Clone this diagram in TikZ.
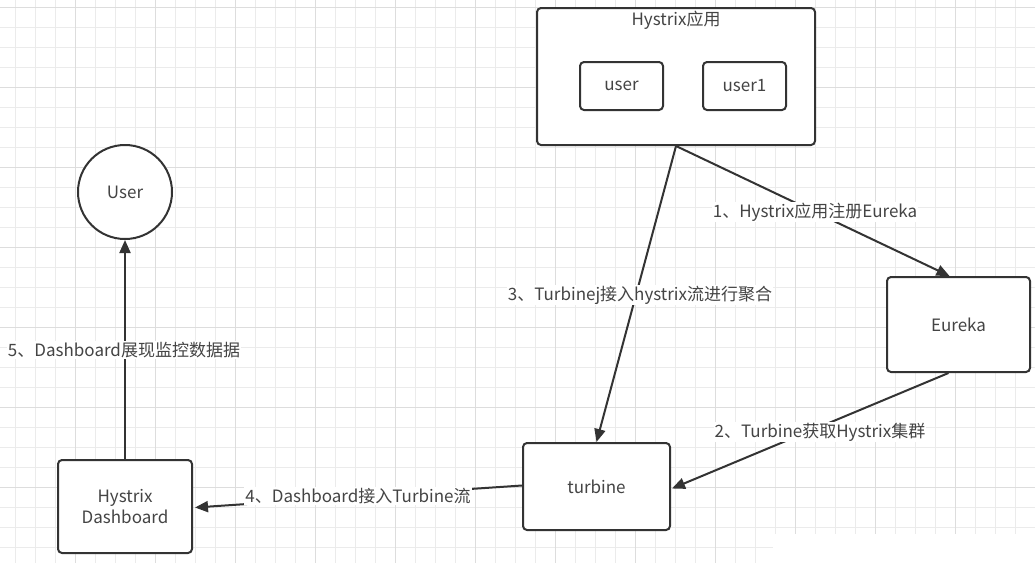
\documentclass[tikz,border=0pt]{standalone}
\usepackage{fontspec}
\setmainfont{Noto Sans CJK SC}
\usetikzlibrary{arrows.meta,calc}
\definecolor{ink}{HTML}{333333}
\definecolor{txt}{HTML}{444444}
\definecolor{gridminor}{HTML}{EBEBEB}
\definecolor{gridmajor}{HTML}{DDDDDD}
\tikzset{
  box/.style={draw=ink, line width=2pt, rounded corners=4pt, fill=white, inner sep=0pt, text=txt, align=center, font=\fontsize{17}{21}\selectfont},
  circ/.style={draw=ink, line width=2pt, circle, fill=white, inner sep=0pt, text=txt, font=\fontsize{17}{21}\selectfont},
  conn/.style={draw=ink, line width=2pt, -{Triangle[length=13pt,width=11pt]}},
  lbl/.style={fill=white, inner sep=1pt, text=txt, font=\fontsize{17}{21}\selectfont},
  ttl/.style={text=txt, font=\fontsize{17}{21}\selectfont}
}
\begin{document}
\begin{tikzpicture}[x=1pt,y=-1pt]
\useasboundingbox (0,0) rectangle (1035,563);
\fill[white] (0,0) rectangle (1035,563);
% grid
\foreach \x in {15,35,...,1035} {\draw[gridminor, line width=1pt] (\x,0) -- (\x,563);}
\foreach \y in {7,27,...,563} {\draw[gridminor, line width=1pt] (0,\y) -- (1035,\y);}
\foreach \x in {75,155,...,1035} {\draw[gridmajor, line width=1pt] (\x,0) -- (\x,563);}
\foreach \y in {7,87,...,563} {\draw[gridmajor, line width=1pt] (0,\y) -- (1035,\y);}
\fill[white] (773,534) rectangle (1035,563);

% nodes
\node[box, minimum width=278pt, minimum height=137pt] (hys) at (676,76.5) {};
\node[ttl] (hystitle) at (676,20) {Hystrix应用};
\node[box, minimum width=83pt, minimum height=48pt] (u0) at (621.5,86) {user};
\node[box, minimum width=83pt, minimum height=48pt] (u1) at (744.5,86) {user1};
\node[circ, minimum size=94pt] (usr) at (125,192) {User};
\node[box, minimum width=143pt, minimum height=95pt] (eur) at (958.5,324.5) {Eureka};
\node[box, minimum width=147pt, minimum height=87pt] (turb) at (596.5,486.5) {turbine};
\node[box, minimum width=134pt, minimum height=93pt] (dash) at (125,506.5) {Hystrix\\Dashboard};

% connectors
\draw[conn] (hys.south) -- ([xshift=-9pt]eur.north);
\draw[conn] (hys.south) -- (turb.north);
\draw[conn] ([xshift=-10pt]eur.south) -- ([xshift=1pt,yshift=-2pt]turb.east);
\draw[conn] ([yshift=1pt]turb.west) -- ([xshift=2pt,yshift=-1pt]dash.east);
\draw[conn] (dash.north) -- (usr.south);

% labels
\node[lbl] (l1) at (815,212) {1、Hystrix应用注册Eureka};
\node[lbl] (l3) at (640,295) {3、Turbinej接入hystrix流进行聚合};
\node[lbl] (l2) at (820,432) {2、Turbine获取Hystrix集群};
\node[lbl] (l4) at (358,496) {4、Dashboard接入Turbine流};
\node[lbl] (l5) at (124,350) {5、Dashboard展现监控数据据};
\end{tikzpicture}
\end{document}
